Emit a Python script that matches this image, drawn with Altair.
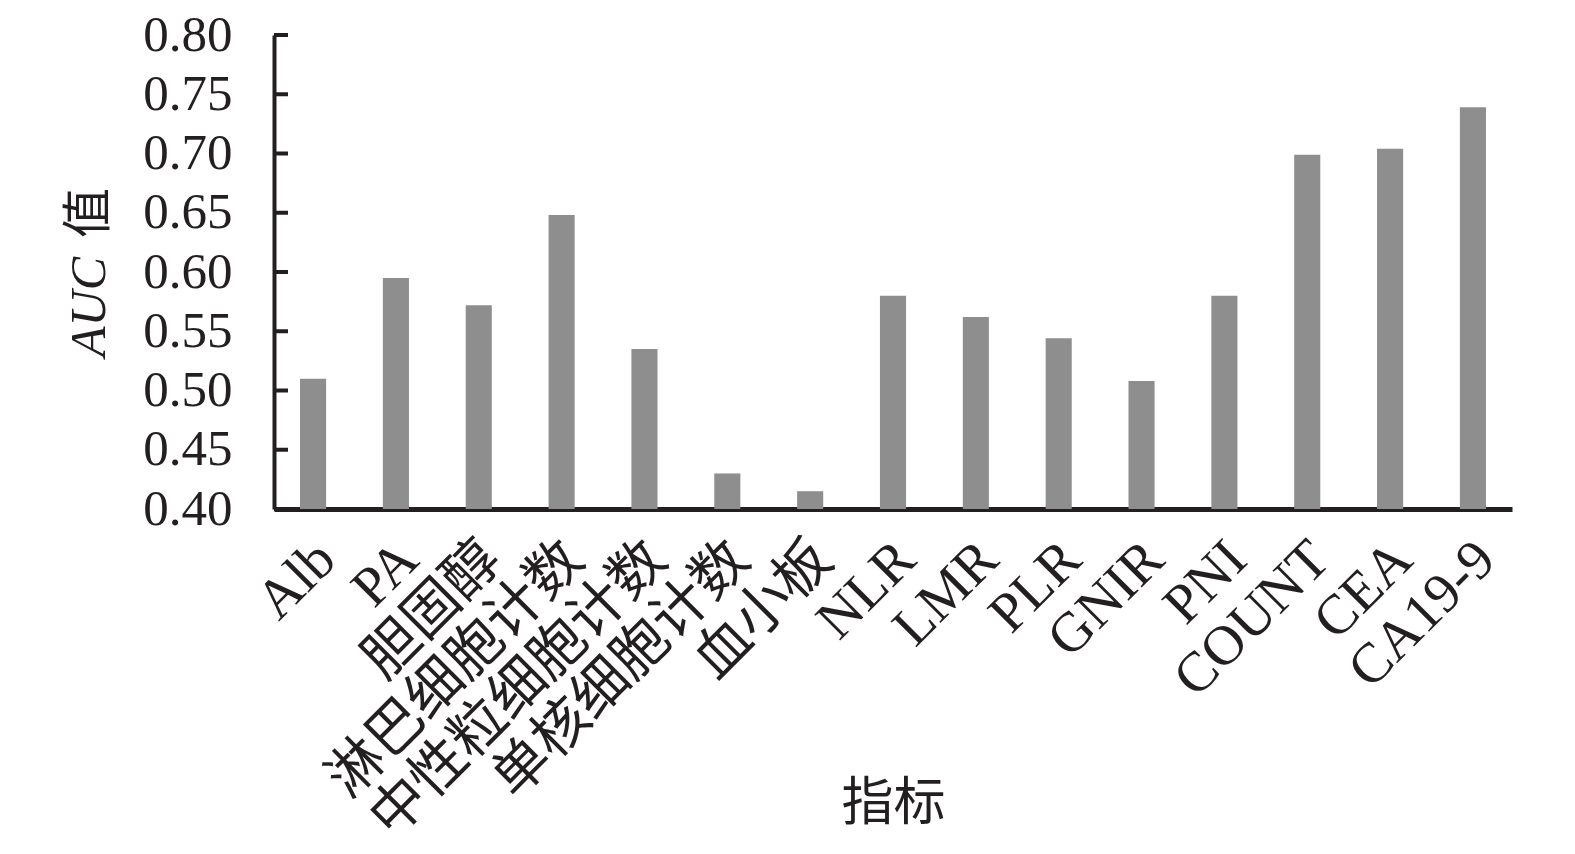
import altair as alt
import pandas as pd

# AUC value for each indicator
categories = ["Alb", "PA", "胆固醇", "淋巴细胞计数", "中性粒细胞计数", "单核细胞计数",
              "血小板", "NLR", "LMR", "PLR", "GNIR", "PNI", "COUNT", "CEA", "CA19-9"]
auc = [0.510, 0.595, 0.572, 0.648, 0.535, 0.430, 0.415, 0.580,
       0.562, 0.544, 0.508, 0.580, 0.699, 0.704, 0.739]
y_ticks = [0.40, 0.45, 0.50, 0.55, 0.60, 0.65, 0.70, 0.75, 0.80]

BASE = 0.40
INK = "#231f20"
BAR = "#8f8e8f"
LATIN = "Liberation Serif, Noto Sans CJK SC"

df = pd.DataFrame({"指标": categories, "AUC": auc, "base": [BASE] * len(auc)})
ticks_df = pd.DataFrame({"t": y_ticks})

x_enc = alt.X(
    "指标:N",
    sort=categories,
    scale=alt.Scale(paddingInner=0.685, paddingOuter=0.314),
    axis=alt.Axis(
        title="指标",
        titleFont=LATIN,
        titleFontSize=52,
        titleFontWeight="normal",
        titleColor=INK,
        titleY=294,
        titleBaseline="middle",
        labelAngle=-45,
        labelFont=LATIN,
        labelFontSize=56,
        labelColor=INK,
        labelPadding=22,
        labelOffset=-6,
        labelLimit=1000,
        labelOverlap=False,
        ticks=False,
        domainColor=INK,
        domainWidth=5,
    ),
)

y_scale = alt.Scale(domain=[0.40, 0.80], zero=False, nice=False)

bars = alt.Chart(df).mark_bar(color=BAR).encode(
    x=x_enc,
    y=alt.Y(
        "AUC:Q",
        scale=y_scale,
        axis=alt.Axis(
            title=None,
            values=y_ticks,
            format=".2f",
            labelFont=LATIN,
            labelFontSize=51,
            labelColor=INK,
            labelPadding=42,
            ticks=False,
            grid=False,
            domainColor=INK,
            domainWidth=4,
        ),
    ),
    y2="base:Q",
)

# inward tick marks on the value axis
tick_marks = alt.Chart(ticks_df).mark_rule(color=INK, strokeWidth=4).encode(
    y=alt.Y("t:Q", scale=y_scale),
    x=alt.value(0),
    x2=alt.value(14),
)

one = alt.Data(values=[{"k": 1}])
title_auc = alt.Chart(one).mark_text(
    text="AUC", angle=270, font=LATIN, fontSize=50, fontStyle="italic",
    color=INK, align="center", baseline="middle",
).encode(x=alt.value(-184), y=alt.value(272))
title_val = alt.Chart(one).mark_text(
    text="值", angle=270, font=LATIN, fontSize=50,
    color=INK, align="center", baseline="middle",
).encode(x=alt.value(-184), y=alt.value(178))

chart = alt.layer(bars, tick_marks, title_auc, title_val).properties(
    width=1238,
    height=474,
    background="white",
    autosize=alt.AutoSizeParams(type="none"),
    padding={"left": 274, "top": 35, "right": 63, "bottom": 345},
).configure_view(strokeWidth=0, stroke="transparent")

chart.save("out.html", embed_options={"renderer": "svg", "actions": False})
